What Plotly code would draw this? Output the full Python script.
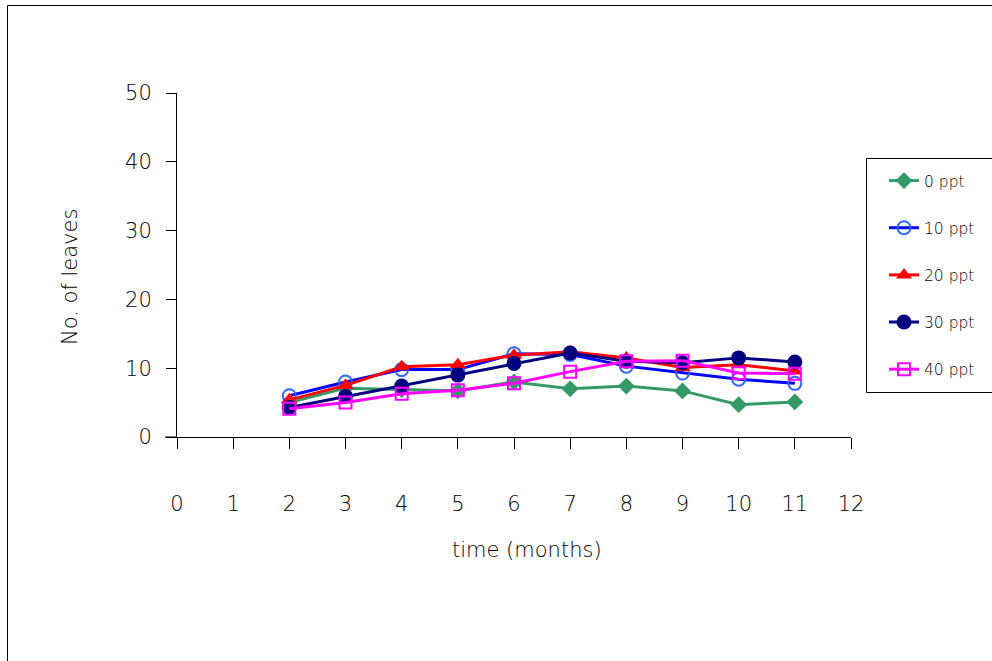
import plotly.graph_objects as go

months = [2, 3, 4, 5, 6, 7, 8, 9, 10, 11]
ppt0 = [5.0, 7.1, 6.9, 6.7, 8.0, 7.0, 7.4, 6.7, 4.7, 5.1]
ppt10 = [6.0, 8.0, 9.8, 9.8, 12.1, 12.0, 10.3, 9.3, 8.4, 7.8]
ppt20 = [5.4, 7.5, 10.2, 10.5, 11.9, 12.4, 11.5, 10.1, 10.5, 9.6]
ppt30 = [4.3, 5.9, 7.4, 9.0, 10.7, 12.2, 11.0, 10.8, 11.5, 10.9]
ppt40 = [4.1, 5.0, 6.3, 6.8, 7.8, 9.5, 11.0, 11.1, 9.3, 9.2]

x_ticks = list(range(0, 13))
y_ticks = [0, 10, 20, 30, 40, 50]

FONT = "DejaVu Sans"
WEIGHT = 200
TEXT_COLOR = "#000000"

series = [
    ("0 ppt", ppt0, "#339966", dict(symbol="diamond", size=13, color="#339966")),
    ("10 ppt", ppt10, "#0000FF", dict(symbol="circle-open", size=13, color="#3366FF", line=dict(width=2, color="#3366FF"))),
    ("20 ppt", ppt20, "#FF0000", dict(symbol="triangle-up", size=14, color="#FF0000")),
    ("30 ppt", ppt30, "#000080", dict(symbol="circle", size=15, color="#000080")),
    ("40 ppt", ppt40, "#FF00FF", dict(symbol="square-open", size=12, color="#FF00FF", line=dict(width=2, color="#FF00FF"))),
]

fig = go.Figure()
for i, (name, vals, col, mk) in enumerate(series):
    fig.add_trace(go.Scatter(
        x=months, y=vals, name=name, mode="lines+markers",
        line=dict(color=col, width=3), marker=mk,
        legendgroup=f"g{i}", cliponaxis=False,
    ))

fig.update_layout(
    width=992, height=661,
    margin=dict(l=177, r=141, t=93, b=224, pad=0),
    paper_bgcolor="white", plot_bgcolor="white",
    font=dict(family=FONT, size=21, color=TEXT_COLOR, weight=WEIGHT),
    showlegend=True,
    legend=dict(
        x=(884 - 177) / 674, y=(437 - 164) / 344, xanchor="left", yanchor="top",
        borderwidth=0, bgcolor="rgba(0,0,0,0)",
        font=dict(size=15.5, color=TEXT_COLOR, family=FONT, weight=WEIGHT),
        tracegroupgap=24,
    ),
    xaxis=dict(
        range=[0, 12], tickvals=x_ticks, ticktext=[str(v) for v in x_ticks],
        showgrid=False, zeroline=False, showline=True, linecolor="black", linewidth=1,
        ticks="outside", ticklen=11, tickcolor="black", tickwidth=1,
        ticklabelstandoff=37,
    ),
    yaxis=dict(
        range=[0, 50], tickvals=y_ticks,
        showgrid=False, zeroline=False, showline=True, linecolor="black", linewidth=1,
        ticks="outside", ticklen=10, tickcolor="black", tickwidth=1,
        ticklabelstandoff=10,
    ),
    shapes=[
        dict(type="line", xref="paper", yref="paper", x0=-12/674, x1=0, y0=0, y1=0,
             line=dict(color="black", width=1)),
        dict(type="rect", xref="paper", yref="paper",
             x0=(7.5 - 177) / 674, x1=(1010 - 177) / 674,
             y0=(437 - 680) / 344, y1=(437 - 5.5) / 344,
             line=dict(color="black", width=1), fillcolor="rgba(0,0,0,0)", layer="below"),
        dict(type="rect", xref="paper", yref="paper",
             x0=(866.5 - 177) / 674, x1=(1010 - 177) / 674,
             y0=(437 - 392.5) / 344, y1=(437 - 158.5) / 344,
             line=dict(color="black", width=1), fillcolor="white", layer="below"),
    ],
    annotations=[
        dict(text="time (months)", xref="paper", yref="paper",
             x=(527 - 177) / 674, y=(437 - 550) / 344, showarrow=False,
             xanchor="center", yanchor="middle", font=dict(size=21)),
        dict(text="No. of leaves", xref="paper", yref="paper",
             x=(70 - 177) / 674, y=(437 - 277) / 344, showarrow=False, textangle=-90,
             xanchor="center", yanchor="middle", font=dict(size=21)),
    ],
)

fig.write_html("out.html", config={"displayModeBar": False},
               post_script="document.body.style.margin='0';document.body.style.padding='0';")
